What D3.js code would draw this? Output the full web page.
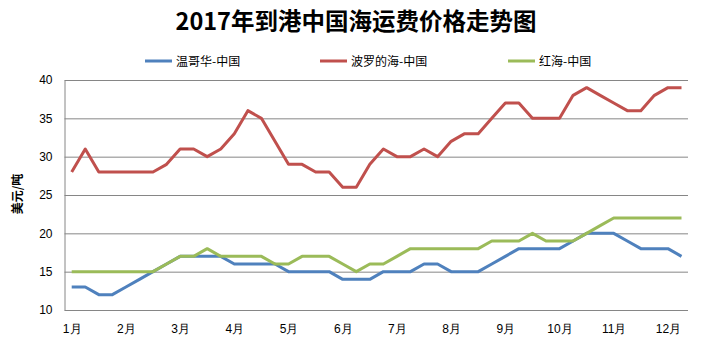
<!DOCTYPE html>
<html><head><meta charset="utf-8">
<script src="https://cdn.jsdelivr.net/npm/d3@7"></script>
<style>body{margin:0;background:#fff;}svg{display:block;font-family:"Noto Sans CJK SC","DejaVu Sans",sans-serif;}</style>
</head><body><svg id="c" width="712" height="358"></svg>
<script>
const title = "2017年到港中国海运费价格走势图";
const yTitle = "美元/吨";
const monthLabels = ["1月","2月","3月","4月","5月","6月","7月","8月","9月","10月","11月","12月"];
const seriesNames = ["温哥华-中国","波罗的海-中国","红海-中国"];
const colors = ["#4F81BD","#C0504D","#9BBB59"];
const vancouver = [13,13,12,12,13,14,15,16,17,17,17,17,16,16,16,16,15,15,15,15,14,14,14,15,15,15,16,16,15,15,15,16,17,18,18,18,18,19,20,20,20,19,18,18,18,17];
const baltic = [28,31,28,28,28,28,28,29,31,31,30,31,33,36,35,32,29,29,28,28,26,26,29,31,30,30,31,30,32,33,33,35,37,37,35,35,35,38,39,38,37,36,36,38,39,39];
const redSea = [15,15,15,15,15,15,15,16,17,17,18,17,17,17,17,16,16,17,17,17,16,15,16,16,17,18,18,18,18,18,18,19,19,19,20,19,19,19,20,21,22,22,22,22,22,22];
const yTicks = [10,15,20,25,30,35,40];

(function(){
const svg = d3.select("#c");
const mL = 64.5, mR = 688, mT = 80, mB = 310;
const idx = d3.range(vancouver.length);
const x = d3.scalePoint().domain(idx).range([71.7, 681.5]);
const y = d3.scaleLinear().domain([10,40]).range([mB, mT]);

const yAxis = d3.axisLeft(y).tickValues(yTicks).tickSize(-(mR-mL)).tickPadding(12);
const gy = svg.append("g").attr("transform",`translate(${mL},0)`).call(yAxis);
gy.select(".domain").attr("stroke","#868686");
gy.selectAll(".tick line").attr("stroke","#868686").attr("stroke-width",1);
gy.selectAll(".tick text").attr("font-size",12).attr("fill","#000").attr("font-family","Liberation Sans, Arial, sans-serif");

const xAxis = d3.axisBottom(x).tickValues(idx.filter(i=>i%4===0)).tickFormat(i=>monthLabels[i/4]).tickSize(0).tickPadding(14);
const gx = svg.append("g").attr("transform",`translate(0,${mB})`).call(xAxis);
gx.select(".domain").remove();
gx.selectAll(".tick text").attr("font-size",12).attr("fill","#000");

const line = d3.line().x((d,i)=>x(i)).y(d=>y(d));
[vancouver, baltic, redSea].forEach((s,k)=>{
  svg.append("path").datum(s).attr("d",line).attr("fill","none")
    .attr("stroke",colors[k]).attr("stroke-width",3).attr("stroke-linejoin","round");
});

svg.append("text").attr("x",356).attr("y",30).attr("text-anchor","middle")
  .attr("font-size",23.5).attr("font-weight","bold").attr("fill","#000").text(title);

svg.append("text").attr("transform","translate(22,194) rotate(-90)").attr("text-anchor","middle")
  .attr("font-size",12).attr("font-weight","bold").attr("fill","#000").text(yTitle);

const legX = [145, 320, 508];
seriesNames.forEach((n,k)=>{
  const g = svg.append("g").attr("transform",`translate(${legX[k]},61)`);
  g.append("line").attr("x1",0).attr("x2",27).attr("y1",0).attr("y2",0).attr("stroke",colors[k]).attr("stroke-width",3);
  g.append("text").attr("x",31).attr("y",4.5).attr("font-size",12).attr("fill","#000").text(n);
});
})();
</script></body></html>
